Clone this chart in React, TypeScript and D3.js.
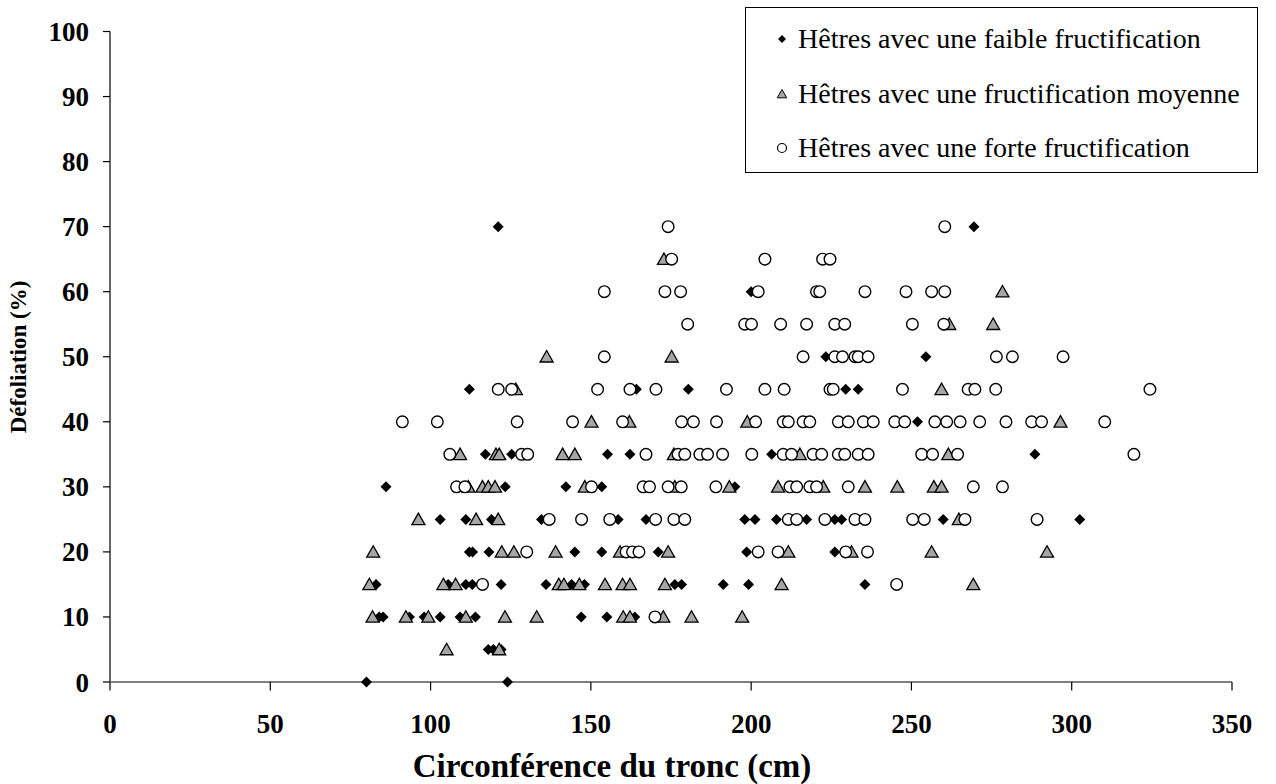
import React, { useRef, useEffect } from "react";
import * as d3 from "d3";

// [circonférence (cm), défoliation (%)]
const faible: number[][] = [
  [80, 0], [124, 0],
  [118, 5], [119.6, 5], [122, 5],
  [84, 10], [85.2, 10], [93.4, 10], [98, 10], [103, 10], [109.2, 10], [114, 10], [147, 10], [155, 10], [163.7, 10],
  [83, 15], [105.5, 15], [111, 15], [113, 15], [122, 15], [136, 15], [144, 15], [148, 15], [176.2, 15], [178.3, 15], [191.3, 15], [199.2, 15], [235.5, 15],
  [112.1, 20], [113.1, 20], [118.2, 20], [145, 20], [153.4, 20], [171, 20], [198.6, 20], [226.1, 20],
  [103, 25], [111, 25], [119, 25], [134.6, 25], [158.5, 25], [167.2, 25], [198, 25], [201.2, 25], [207.9, 25], [217.3, 25], [226.1, 25], [228.2, 25], [259.9, 25], [302.5, 25],
  [86.1, 30], [123.3, 30], [142.2, 30], [153.4, 30], [194.9, 30],
  [117.1, 35], [125.3, 35], [155.2, 35], [162.2, 35], [206.4, 35], [288.5, 35],
  [251.9, 40],
  [112.1, 45], [164.2, 45], [180.4, 45], [229.5, 45], [233.4, 45],
  [223.3, 50], [254.5, 50],
  [200, 60],
  [121.1, 70], [269.5, 70],
];

const moyenne: number[][] = [
  [105, 5], [121.4, 5],
  [81.9, 10], [92.3, 10], [99.3, 10], [111, 10], [123.2, 10], [133.1, 10], [160.1, 10], [162.2, 10], [172.6, 10], [181.4, 10], [197.2, 10],
  [80.9, 15], [104, 15], [107.8, 15], [140, 15], [141.6, 15], [146.4, 15], [154.4, 15], [159.9, 15], [162.2, 15], [173.1, 15], [209.5, 15], [269.3, 15],
  [82.1, 20], [122.2, 20], [126, 20], [139, 20], [159.1, 20], [174.1, 20], [211.6, 20], [231.3, 20], [256.3, 20], [292.3, 20],
  [96.2, 25], [114.2, 25], [121.1, 25], [264.8, 25],
  [111.8, 30], [116.2, 30], [118, 30], [120.1, 30], [148.1, 30], [176.2, 30], [193.2, 30], [208.4, 30], [222.5, 30], [235.5, 30], [245.6, 30], [257, 30], [259.4, 30],
  [109.2, 35], [120.4, 35], [121.4, 35], [141.2, 35], [145, 35], [175.9, 35], [215.2, 35], [261.5, 35],
  [150.2, 40], [162, 40], [198.8, 40], [296.5, 40],
  [126.6, 45], [259.4, 45],
  [136.2, 50], [175.2, 50],
  [261.8, 55], [275.5, 55],
  [278.4, 60],
  [172.8, 65],
];

const forte: number[][] = [
  [170, 10],
  [116.2, 15], [245.4, 15],
  [130, 20], [161, 20], [163, 20], [165, 20], [202.2, 20], [208.4, 20], [229.5, 20], [236.3, 20],
  [137, 25], [147.1, 25], [155.9, 25], [170.2, 25], [175.9, 25], [179.3, 25], [211.6, 25], [214.2, 25], [223, 25], [232.4, 25], [235.5, 25], [250.4, 25], [254, 25], [266.7, 25], [289.2, 25],
  [108.1, 30], [110.7, 30], [150.2, 30], [166.3, 30], [168.3, 30], [174.1, 30], [178.2, 30], [189, 30], [212.1, 30], [214.2, 30], [218.3, 30], [220.4, 30], [230.3, 30], [269.3, 30], [278.4, 30],
  [106, 35], [128.4, 35], [130.3, 35], [167.2, 35], [177.2, 35], [179.3, 35], [184, 35], [186.4, 35], [191.1, 35], [200.2, 35], [210, 35], [212.6, 35], [219.3, 35], [222, 35], [227.2, 35], [229.2, 35], [233.4, 35], [236.5, 35], [253.2, 35], [256.6, 35], [264.4, 35], [319.4, 35],
  [91.2, 40], [102.1, 40], [127, 40], [144.3, 40], [159.9, 40], [178.3, 40], [182, 40], [189.2, 40], [201.4, 40], [210, 40], [211.6, 40], [216.2, 40], [218.3, 40], [227.2, 40], [230.3, 40], [235, 40], [238.1, 40], [244.8, 40], [247.9, 40], [257.3, 40], [261, 40], [265.2, 40], [271.3, 40], [279.5, 40], [287.5, 40], [290.6, 40], [310.3, 40],
  [121.1, 45], [125.3, 45], [152.1, 45], [162.2, 45], [170.3, 45], [192.3, 45], [204.3, 45], [210.3, 45], [224.6, 45], [225.6, 45], [247.2, 45], [267.7, 45], [269.8, 45], [276.3, 45], [324.4, 45],
  [154.2, 50], [216.2, 50], [226.1, 50], [228.5, 50], [232.4, 50], [233.4, 50], [236.5, 50], [276.5, 50], [281.5, 50], [297.3, 50],
  [180.2, 55], [198, 55], [200.1, 55], [209.2, 55], [217.3, 55], [226.1, 55], [229.2, 55], [250.3, 55], [260.1, 55],
  [154.2, 60], [173.1, 60], [178, 60], [202.2, 60], [220.4, 60], [221.4, 60], [235.5, 60], [248.3, 60], [256.3, 60], [260.4, 60],
  [175.2, 65], [204.3, 65], [222.3, 65], [224.6, 65],
  [174.1, 70], [260.4, 70],
];

const xTicks = [0, 50, 100, 150, 200, 250, 300, 350];
const yTicks = [0, 10, 20, 30, 40, 50, 60, 70, 80, 90, 100];
const legendLabels = [
  "Hêtres avec une faible fructification",
  "Hêtres avec une fructification moyenne",
  "Hêtres avec une forte fructification",
];

const FONT = "'Liberation Serif', 'DejaVu Serif', serif";

export default function App() {
  const ref = useRef<HTMLDivElement>(null);

  useEffect(() => {
    const width = 1276;
    const height = 784;
    d3.select(ref.current).selectAll("*").remove();

    const svg = d3
      .select(ref.current)
      .append("svg")
      .attr("width", width)
      .attr("height", height)
      .style("position", "absolute")
      .style("left", "0px")
      .style("top", "0px")
      .style("font-family", FONT);

    const x = d3.scaleLinear().domain([0, 350]).range([110, 1232]);
    const y = d3.scaleLinear().domain([0, 100]).range([682, 31.5]);

    // y axis
    svg.append("line")
      .attr("x1", x(0)).attr("x2", x(0))
      .attr("y1", y(100)).attr("y2", y(0))
      .attr("stroke", "#000").attr("stroke-width", 1.2);
    svg.selectAll(".ytick").data(yTicks).enter().append("line")
      .attr("x1", x(0) - 7).attr("x2", x(0))
      .attr("y1", (d) => y(d)).attr("y2", (d) => y(d))
      .attr("stroke", "#000").attr("stroke-width", 1.2);
    svg.selectAll(".ylab").data(yTicks).enter().append("text")
      .attr("x", 89).attr("y", (d) => y(d) + 9.5)
      .attr("text-anchor", "end")
      .attr("font-size", 27).attr("font-weight", "bold")
      .text((d) => d);

    // x axis
    svg.append("line")
      .attr("x1", x(0)).attr("x2", x(350))
      .attr("y1", y(0)).attr("y2", y(0))
      .attr("stroke", "#808080").attr("stroke-width", 2.2);
    svg.selectAll(".xtick").data(xTicks).enter().append("line")
      .attr("x1", (d) => x(d)).attr("x2", (d) => x(d))
      .attr("y1", y(0)).attr("y2", y(0) + 8.5)
      .attr("stroke", "#000").attr("stroke-width", 1.2);
    svg.selectAll(".xlab").data(xTicks).enter().append("text")
      .attr("x", (d) => x(d)).attr("y", 733)
      .attr("text-anchor", "middle")
      .attr("font-size", 27).attr("font-weight", "bold")
      .text((d) => d);

    svg.append("text")
      .attr("x", 612).attr("y", 777)
      .attr("text-anchor", "middle")
      .attr("font-size", 33).attr("font-weight", "bold")
      .text("Circonférence du tronc (cm)");
    svg.append("text")
      .attr("transform", `translate(26,${357}) rotate(-90)`)
      .attr("text-anchor", "middle")
      .attr("font-size", 23).attr("font-weight", "bold")
      .text("Défoliation (%)");

    const diamond = (s: number) => `M0,${-s}L${s},0L0,${s}L${-s},0Z`;
    const tri = (s: number) => `M0,${-s}L${s * 1.05},${s * 0.85}L${-s * 1.05},${s * 0.85}Z`;

    // points
    svg.append("g").selectAll("path").data(faible).enter().append("path")
      .attr("d", diamond(5.5))
      .attr("transform", (d) => `translate(${x(d[0])},${y(d[1])})`)
      .attr("fill", "#000");
    svg.append("g").selectAll("path").data(moyenne).enter().append("path")
      .attr("d", tri(6.2))
      .attr("transform", (d) => `translate(${x(d[0])},${y(d[1])})`)
      .attr("fill", "#a6a6a6").attr("stroke", "#000").attr("stroke-width", 1.3)
      .attr("stroke-linejoin", "miter");
    svg.append("g").selectAll("circle").data(forte).enter().append("circle")
      .attr("cx", (d) => x(d[0])).attr("cy", (d) => y(d[1])).attr("r", 5.8)
      .attr("fill", "#fff").attr("stroke", "#000").attr("stroke-width", 1.4);

    // legend
    const lg = svg.append("g");
    lg.append("rect")
      .attr("x", 745.5).attr("y", 7.5).attr("width", 512).attr("height", 165)
      .attr("fill", "#fff").attr("stroke", "#000").attr("stroke-width", 1);
    const rows = [39, 94, 148];
    lg.append("path").attr("d", diamond(4))
      .attr("transform", `translate(782,${rows[0]})`).attr("fill", "#000");
    lg.append("path").attr("d", tri(4.5))
      .attr("transform", `translate(782,${rows[1]})`)
      .attr("fill", "#a6a6a6").attr("stroke", "#000").attr("stroke-width", 1);
    lg.append("circle").attr("cx", 782).attr("cy", rows[2]).attr("r", 4.5)
      .attr("fill", "#fff").attr("stroke", "#000").attr("stroke-width", 1.2);
    lg.selectAll("text").data(legendLabels).enter().append("text")
      .attr("x", 798).attr("y", (d, i) => rows[i] + 9)
      .attr("font-size", 28)
      .text((d) => d);
  }, []);

  return <div ref={ref} />;
}
